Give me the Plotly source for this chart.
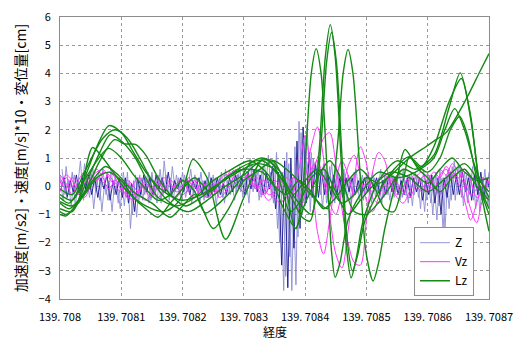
import plotly.graph_objects as go

# ---------------- axis data ----------------
LON0 = 139.708
UNIT = 1e-5  # one sample unit of longitude (deg)

x_tick_vals = [139.708, 139.7081, 139.7082, 139.7083, 139.7084, 139.7085, 139.7086, 139.7087]
x_tick_text = ["139. 708", "139. 7081", "139. 7082", "139. 7083", "139. 7084", "139. 7085", "139. 7086", "139. 7087"]
y_tick_vals = [-4, -3, -2, -1, 0, 1, 2, 3, 4, 5, 6]
x_title = "経度"
y_title = "加速度[m/s2]・速度[m/s]*10・変位量[cm]"

# ---------------- Z : acceleration [m/s2], sampled every 0.5 unit ----------------
z_a = [0.4, -0.5, 0.7, -0.3, 0.5, -0.7, 0.2, -0.4, 0.8, -0.2,
       0.5, -0.8, 0.3, -0.5, 0.6, -0.3, 0.2, -0.9, 0.4, -0.6,
       0.3, -0.7, 0.5, -1.5, 0.2, -1.1, 0.4, -0.5, 0.3, -0.6,
       0.5, -0.3, 0.4, -0.6, 0.9, -0.2, 0.3, -0.5, 0.4, -0.3,
       0.5, -0.4, 0.2, -0.6, 0.4, -0.3, 0.5, -0.5, 0.3, -0.4,
       0.4, -0.7, 0.3, -0.4, 0.6, -0.3, 0.2, -0.5, 0.4, -0.2,
       0.6, -0.3, 1.0, -0.2, 0.5, -0.5, 0.7, -0.3, 1.1, -0.4,
       0.9, -1.5, 0.4, -3.7, 1.2, -2.5, 0.3, -3.5, 2.3, -1.0,
       1.8, -0.4, 1.2, -0.7, 0.9, -0.3, 0.8, -0.6, 0.7, -0.4,
       0.6, -0.5, 0.5, -0.3, 0.4, -0.6, 0.5, -0.2, 0.3, -0.5,
       0.4, -0.3, 0.5, -0.4, 0.3, -0.6, 0.4, -0.3, 0.5, -0.4,
       0.3, -0.5, 0.6, -0.3, 0.4, -0.7, 0.5, -0.4, 0.3, -0.9,
       0.5, -0.6, 0.3, -1.2, 0.6, -1.6, 0.4, -0.8, 0.7, -0.5,
       0.8, -0.4, 0.5, -0.6, 0.4, -0.5, 0.6, -0.9, 0.3, -0.4,
       0.5]
z_b = [-0.1, 0.3, -0.4, 0.2, -0.2, 0.4, -0.3, 0.3, -0.1, 0.4,
       -0.3, 0.3, -0.4, 0.3, -0.1, 0.4, -0.5, 0.2, -0.3, 0.3,
       -0.4, 0.3, -0.6, 0.1, -0.9, 0.3, -0.3, 0.4, -0.2, 0.3,
       -0.3, 0.4, -0.1, 0.3, -0.2, 0.5, -0.3, 0.2, -0.1, 0.3,
       -0.2, 0.3, -0.3, 0.2, -0.1, 0.3, -0.3, 0.2, -0.4, 0.3,
       -0.2, 0.3, -0.3, 0.1, -0.3, 0.3, -0.2, 0.4, -0.1, 0.3,
       -0.3, 0.5, -0.1, 0.6, -0.2, 0.4, -0.3, 0.5, -0.1, 0.7,
       -0.8, 0.5, -2.8, 0.9, -3.6, 1.0, -2.2, 1.6, -1.5, 2.1,
       -0.6, 1.2, -0.4, 0.8, -0.4, 0.6, -0.3, 0.5, -0.3, 0.4,
       -0.3, 0.3, -0.4, 0.3, -0.2, 0.3, -0.3, 0.2, -0.3, 0.3,
       -0.2, 0.3, -0.1, 0.3, -0.3, 0.2, -0.3, 0.4, -0.2, 0.3,
       -0.3, 0.2, -0.3, 0.3, -0.4, 0.3, -0.2, 0.3, -0.5, 0.2,
       -0.3, 0.4, -0.6, 0.3, -1.0, 0.3, -0.4, 0.5, -0.3, 0.4,
       -0.3, 0.5, -0.2, 0.3, -0.5, 0.4, -0.3, 0.5, -0.4, 0.3,
       -0.2]
z_c = [0.6, -0.3, 0.2, -0.7, 0.4, -0.1, 0.9, -0.5, 0.3, -0.4,
       0.7, -0.2, 0.5, -0.9, 0.2, -0.5, 0.6, -0.3, 0.1, -0.8,
       0.5, -0.4, 0.2, -1.0, 0.4, -0.6, 0.3, -0.3, 0.5, -0.5,
       0.2, -0.6, 0.6, -0.3, 0.4, -0.5, 0.7, -0.2, 0.3, -0.6,
       0.4, -0.2, 0.6, -0.3, 0.3, -0.6, 0.2, -0.4, 0.5, -0.2,
       0.3, -0.4, 0.5, -0.6, 0.2, -0.3, 0.5, -0.2, 0.7, -0.4,
       0.4, -0.6, 0.8, -0.1, 0.6, -0.4, 0.9, -0.2, 0.5, -0.6,
       1.2, -2.0, 0.5, -3.2, 0.8, -3.7, 1.4, -1.8, 1.9, -0.6,
       2.2, -0.9, 1.0, -0.4, 0.7, -0.8, 0.6, -0.2, 0.8, -0.6,
       0.5, -0.3, 0.6, -0.5, 0.3, -0.4, 0.6, -0.5, 0.4, -0.3,
       0.5, -0.6, 0.3, -0.2, 0.6, -0.4, 0.3, -0.5, 0.4, -0.2,
       0.6, -0.4, 0.2, -0.6, 0.5, -0.3, 0.4, -0.8, 0.6, -0.5,
       0.4, -1.0, 0.5, -0.7, 0.3, -1.5, 0.6, -0.5, 0.9, -0.3,
       0.6, -0.7, 0.4, -0.3, 0.7, -0.8, 0.3, -0.5, 0.6, -0.7,
       0.3]

# ---------------- Vz : velocity [m/s]*10, sampled every 1 unit ----------------
vz_1 = [0.2, -0.1, 0.3, 0.1, -0.2, 0.3, 0.5, 0.6, 0.3, 0.0,
        -0.2, 0.1, -0.3, -0.1, 0.2, -0.2, -0.4, -0.1, 0.2, 0.0,
        -0.3, -0.1, 0.2, -0.2, -0.4, -0.2, 0.1, 0.3, 0.5, 0.6,
        0.5, 0.2, 0.0, -0.3, -0.1, 0.2, 0.0, -0.4, -0.2, 0.6,
        1.8, 0.5, -1.6, -2.4, -1.2, 0.2, 0.9, 0.4, -0.3, -0.1,
        0.1, -0.2, 0.2, 0.4, 0.1, -0.3, 0.0, 0.3, 0.1, -0.2,
        0.2, 0.5, 0.3, 0.7, 0.4, 0.1, -0.5, -1.2, -0.6, 0.0, -0.2]
vz_2 = [-0.2, 0.3, 0.0, -0.3, 0.1, 0.4, 0.2, 0.5, 0.4, 0.1,
        0.2, -0.3, -0.5, -0.2, 0.1, -0.1, 0.2, -0.2, -0.3, 0.1,
        0.2, -0.2, -0.4, -0.1, 0.1, -0.3, -0.1, 0.2, 0.6, 0.4,
        0.3, 0.4, 0.1, -0.2, -0.5, -0.3, 0.1, 0.3, 0.0, -0.4,
        0.3, 1.4, 2.1, 1.0, -1.0, -2.4, -2.9, -1.6, 0.2, 1.4,
        0.8, -0.4, -0.6, -0.2, 0.2, 0.0, -0.3, 0.2, 0.4, 0.1,
        -0.2, 0.3, 0.6, 0.4, 0.8, 0.5, 0.0, -0.8, -1.3, -0.5, -0.4]
vz_3 = [0.4, 0.1, -0.3, 0.2, 0.5, 0.2, 0.6, 0.3, -0.1, 0.2,
        0.0, -0.4, 0.1, 0.3, -0.2, -0.4, 0.0, 0.3, 0.1, -0.2,
        -0.1, 0.3, 0.0, -0.3, -0.2, 0.1, -0.4, -0.2, 0.2, 0.5,
        0.6, 0.3, -0.1, 0.2, 0.1, -0.4, -0.6, -0.2, 0.3, 0.1,
        -0.2, 0.4, 1.0, 1.7, 1.9, 0.8, -0.8, -2.0, -2.7, -2.8,
        -1.2, 0.5, 1.2, 0.9, 0.0, -0.4, -0.6, -0.2, 0.3, 0.5,
        0.1, -0.1, 0.4, 0.6, 0.3, 0.7, 0.2, -0.3, -0.1, 0.3, 0.1]
vz_4 = [0.1, 0.4, 0.2, -0.2, -0.4, 0.0, 0.3, 0.1, 0.5, 0.3,
        -0.1, 0.2, 0.0, -0.3, -0.5, -0.2, 0.1, 0.0, -0.3, -0.4,
        0.0, 0.2, -0.2, 0.1, 0.0, -0.3, 0.2, 0.4, 0.3, 0.0,
        -0.2, 0.0, 0.3, 0.1, -0.3, -0.2, 0.2, -0.1, -0.5, -0.8,
        -0.3, 0.6, 0.9, 0.2, -0.6, -1.0, -0.2, 0.7, 1.1, 0.4,
        -0.5, -0.9, -0.4, 0.1, 0.3, 0.1, -0.2, -0.4, 0.0, 0.3,
        0.4, 0.0, -0.3, 0.2, 0.5, 0.3, 0.6, 0.2, -0.4, -0.2, 0.2]

# ---------------- Lz : displacement [cm] (longitude offset in units, value) ----------------
lz_1_k = [0, 1.5, 4, 6, 8, 10, 12, 14, 17, 20, 23, 26, 29, 32, 35, 38, 39.5, 40.8, 41.6, 42.4, 43.3, 44.1, 44.9, 45.8, 46.7, 47.5, 48.3, 49.5, 52, 55, 58, 61, 63.5, 65.3, 67, 68.5, 70]
lz_1_y = [-0.4, -0.6, 0.3, 1.4, 2.15, 1.9, 1.2, 0.5, -0.2, -0.5, -0.3, 0.1, 0.5, 0.8, 0.6, -0.5, -1.1, -1.24, -0.5, 1.6, 4.6, 5.73, 4.6, 1.2, -2.1, -3.25, -2.6, -1.2, 0.2, 0.9, 0.6, 1.1, 2.8, 4.02, 2.5, 0.0, -1.0]
lz_2_k = [0, 2, 4, 7, 9, 11, 13, 15, 18, 21, 24, 27, 30, 33, 36, 39, 41, 41.8, 42.6, 43.5, 44.3, 45.1, 46, 46.9, 47.7, 48.5, 49.8, 52, 54.5, 57, 59, 61, 63.5, 65.5, 67, 68.5, 70]
lz_2_y = [-0.1, -0.3, 0.5, 1.7, 2.0, 1.7, 1.0, 0.2, -0.6, -0.9, -0.5, 0.0, 0.4, 0.9, 0.3, -0.6, -1.0, -0.3, 1.5, 4.4, 5.45, 4.4, 1.1, -2.0, -3.0, -2.5, -1.2, -0.2, 0.6, 1.05, 0.7, 1.4, 3.0, 3.82, 2.4, 0.0, -1.6]
lz_3_k = [0, 2, 4, 6.5, 8.2, 10, 12.3, 14, 16, 19, 22, 25, 28, 31, 34, 36.5, 38.5, 39.3, 40.1, 41.0, 41.8, 42.6, 43.5, 44.3, 44.9, 45.7, 47, 49, 52, 55, 58, 61, 62.8, 64.4, 66, 68, 70]
lz_3_y = [-0.8, -0.9, 0.0, 1.2, 1.83, 1.6, 1.0, 0.3, -0.4, -0.7, -0.4, 0.2, 0.6, 0.9, 0.4, -0.8, -1.5, -0.8, 1.2, 4.0, 4.88, 4.0, 0.9, -2.3, -3.23, -2.7, -1.2, -0.3, 0.5, 0.3, 0.5, 1.0, 2.0, 2.75, 2.0, 0.5, -0.4]
lz_4_k = [0, 1.5, 4, 6.5, 8.9, 10.5, 12.3, 14, 16, 18, 20.5, 23, 26, 29, 32, 35, 38, 41, 43.6, 44.5, 45.3, 46.2, 47, 47.8, 48.8, 49.9, 51.1, 52, 53, 55, 56.3, 58, 60, 62, 63.7, 65.2, 66.5, 68, 70]
lz_4_y = [-0.6, -0.8, -0.2, 0.9, 1.65, 1.5, 1.48, 1.1, 0.3, -0.3, -0.7, -0.4, 0.1, 0.6, 0.9, 0.9, 0.4, -0.3, -0.8, 0.0, 1.5, 4.0, 4.85, 4.0, 1.0, -2.3, -3.36, -2.7, -1.5, 0.3, 1.3, 0.8, 0.5, 1.0, 2.0, 2.47, 1.8, 0.3, -0.8]
lz_5_k = [0, 1, 3, 5.3, 7, 9, 11, 14, 17, 19.5, 21.7, 24, 27, 30, 33.2, 36, 38, 40, 42, 44, 46, 48, 50, 52, 54, 57, 59.7, 61, 63, 66.3, 68.5, 70]
lz_5_y = [-1.0, -1.05, -0.5, 1.37, 1.0, 0.4, -0.2, -0.7, -0.9, -0.5, 0.95, 0.3, -1.88, -0.4, 0.98, 0.5, -0.3, 0.2, 0.6, 0.0, -0.6, -0.3, 0.3, 0.1, 0.4, 1.0, 1.4, 1.6, 1.9, 3.1, 4.06, 4.7]
lz_6_k = [0, 2, 4.5, 7.9, 10, 12, 14, 16, 18, 20, 22, 23.7, 26, 29, 31, 33, 35, 37.5, 39, 41, 43, 45, 47, 49, 51, 54, 57, 60, 63, 66, 68, 70]
lz_6_y = [-0.3, -0.5, 0.4, 1.34, 1.0, 0.4, -0.1, -0.5, -0.3, 0.2, -0.2, -0.95, -0.6, 0.1, 0.8, 1.0, 0.7, -0.9, -0.6, 0.3, 0.6, -0.2, -1.0, -0.5, 0.0, 0.5, 0.3, -0.2, 0.3, 0.8, 0.3, -0.2]
lz_7_k = [0, 1, 3, 5, 7.4, 9.5, 12, 15, 18, 20, 22, 25, 27.5, 30, 32, 34.8, 36.5, 38.4, 40, 42, 44, 46, 48, 50, 53, 56, 58, 60, 62, 64, 66, 68, 70]
lz_7_y = [-0.9, -1.0, -0.6, 0.1, 0.7, 0.4, -0.2, -0.6, -1.1, -0.7, -0.3, -1.5, -0.8, 0.2, 0.5, 0.87, 0.2, -1.5, -0.6, 0.3, 0.9, 0.2, -0.9, -1.0, -0.3, 0.6, 0.4, 0.1, 0.6, 1.0, 0.5, 0.2, 0.3]
lz_8_k = [0, 2, 4, 6, 8, 10, 12, 14, 16, 18, 20, 22, 24.5, 27, 30, 33, 35, 37, 39, 41, 43, 45, 47, 49, 51, 53, 54.5, 56, 57, 58.5, 60, 62, 64, 66, 68, 70]
lz_8_y = [-0.55, -0.7, -0.3, 0.3, 0.5, 0.2, -0.4, -0.8, -1.1, -0.6, -0.1, 0.3, -0.2, 0.3, 0.6, 0.5, 0.0, -0.3, 0.2, -0.2, -0.8, -0.4, 0.2, 0.6, 0.1, -0.8, -0.9, 0.2, 1.05, 0.6, 0.3, -0.2, 0.3, 0.6, 0.0, -0.5]

# ---------------- build figure ----------------
Z_LIGHT = "#8c8cd4"
Z_DARK = "#161690"
VZ_COL = "#ff33ff"
LZ_COL = "#138a13"


def lon_from_units(ks):
    return [LON0 + k * UNIT for k in ks]


def grid_lon(n, step, offset):
    return [LON0 + (offset + i * step) * UNIT for i in range(n)]


fig = go.Figure()

z_sets = [(z_a, 0.0, Z_LIGHT, True), (z_c, 0.33, Z_LIGHT, False), (z_b, 0.17, Z_DARK, False)]
for vals, off, col, leg in z_sets:
    fig.add_trace(go.Scatter(x=grid_lon(len(vals), 0.5, off), y=vals, mode="lines",
                             line=dict(color=col, width=0.9), name="Z", legendgroup="Z",
                             showlegend=leg))

for i, vals in enumerate([vz_1, vz_2, vz_3, vz_4]):
    fig.add_trace(go.Scatter(x=grid_lon(len(vals), 1.0, 0.0), y=vals, mode="lines",
                             line=dict(color=VZ_COL, width=1, shape="spline", smoothing=0.9),
                             name="Vz", legendgroup="Vz", showlegend=(i == 0)))

lz_sets = [(lz_1_k, lz_1_y), (lz_2_k, lz_2_y), (lz_3_k, lz_3_y), (lz_4_k, lz_4_y),
           (lz_5_k, lz_5_y), (lz_6_k, lz_6_y), (lz_7_k, lz_7_y), (lz_8_k, lz_8_y)]
for i, (ks, ys) in enumerate(lz_sets):
    fig.add_trace(go.Scatter(x=lon_from_units(ks), y=ys, mode="lines",
                             line=dict(color=LZ_COL, width=1.4, shape="spline", smoothing=0.8),
                             name="Lz", legendgroup="Lz", showlegend=(i == 0)))

axis_common = dict(showgrid=True, gridcolor="#9a9a9a", griddash="dot", gridwidth=1,
                   showline=True, linecolor="#8c8c8c", linewidth=1, mirror=True,
                   zeroline=False, ticks="", automargin=False, ticklabeloverflow="allow",
                   tickfont=dict(size=11, color="#000"))

# the page body adds an 8px margin, so the figure is sized 8px smaller
fig.update_layout(
    width=520, height=332,
    margin=dict(l=52, r=39, t=9, b=41),
    plot_bgcolor="white", paper_bgcolor="white",
    font=dict(family="Noto Sans CJK JP", size=12, color="#000"),
    legend=dict(x=0.965, y=0.01, xanchor="right", yanchor="bottom",
                bordercolor="#8c8c8c", borderwidth=1, bgcolor="white",
                font=dict(size=12), itemwidth=30, tracegroupgap=0),
    xaxis=dict(range=[139.708, 139.7087], tickvals=x_tick_vals, ticktext=x_tick_text,
               ticklabelstandoff=8, **axis_common),
    yaxis=dict(range=[-4, 6], tickvals=y_tick_vals, ticklabelstandoff=6,
               title=dict(text=y_title, standoff=8), **axis_common),
    annotations=[dict(text=x_title, xref="paper", yref="paper", x=0.5, y=-0.115,
                      xanchor="center", yanchor="middle", showarrow=False,
                      font=dict(size=12))],
)

fig.write_html("out.html")
